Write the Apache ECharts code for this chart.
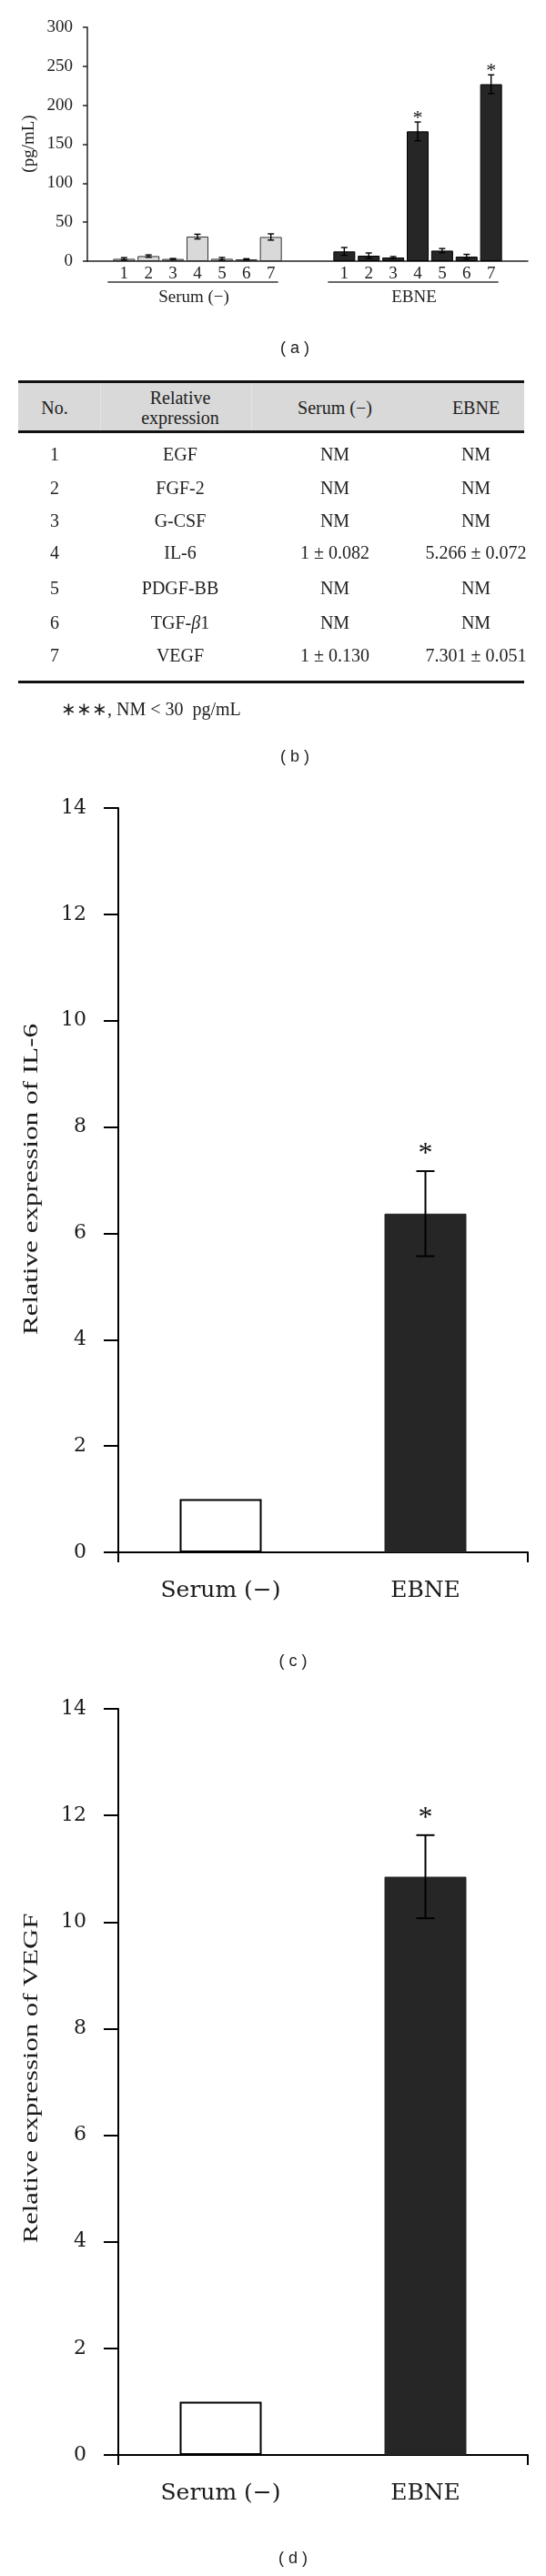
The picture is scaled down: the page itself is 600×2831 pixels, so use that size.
<!DOCTYPE html>
<html>
<head>
<meta charset="utf-8">
<script src="https://cdn.jsdelivr.net/npm/echarts@6/dist/echarts.min.js"></script>
<style>
  body { margin: 0; background: #fff; }
  #chart { position: absolute; left: 0; top: 0; width: 600px; height: 2831px; }
  #table { position: absolute; left: 0; top: 0; width: 600px; height: 840px; pointer-events: none;
           font-family: "Liberation Serif", "Times New Roman", serif; font-size: 20px; color: #222; }
  .cell { position: absolute; transform: translate(-50%, -50%); white-space: nowrap; text-align: center; line-height: 22px; }
  .rule { position: absolute; left: 20px; width: 556px; height: 3px; background: #111; }
</style>
</head>
<body>
<div id="chart"></div>
<div id="table"></div>
<script>
// ---- panel (a): secreted factors, pg/mL ----
var slotLabels = ['', '1', '2', '3', '4', '5', '6', '7', '', '', '1', '2', '3', '4', '5', '6', '7', ''];
var serumSlots = [1, 2, 3, 4, 5, 6, 7];
var ebneSlots = [10, 11, 12, 13, 14, 15, 16];
var serumPg = [3, 6.5, 2.8, 31.5, 3, 2.3, 31];
var serumPgErr = [1.5, 1.5, 0.6, 3, 1.7, 0.8, 4];
var ebnePg = [12.5, 7, 4.7, 166.5, 13.5, 5.8, 227];
var ebnePgErr = [5, 3.5, 1.2, 12, 2.7, 2.9, 12];
var ebneSig = [0, 0, 0, 1, 0, 0, 1];
var groupNames = ['Serum (\u2212)', 'EBNE'];

// ---- panel (b): table ----
var tableNo = ['1', '2', '3', '4', '5', '6', '7'];
var factorNames = ['EGF', 'FGF-2', 'G-CSF', 'IL-6', 'PDGF-BB', 'TGF-\u03b21', 'VEGF'];
var serumRel = ['NM', 'NM', 'NM', '1 \u00b1 0.082', 'NM', 'NM', '1 \u00b1 0.130'];
var ebneRel = ['NM', 'NM', 'NM', '5.266 \u00b1 0.072', 'NM', 'NM', '7.301 \u00b1 0.051'];
var tableHead = ['No.', 'Relative<br>expression', 'Serum (\u2212)', 'EBNE'];
var footNote = '\u2217\u2217\u2217, NM < 30&nbsp; pg/mL';

// ---- panels (c) and (d): relative expression ----
var relGroups = ['Serum (\u2212)', 'EBNE'];
var il6Vals = [1, 6.37];
var il6Err = [0, 0.8];
var vegfVals = [1, 10.85];
var vegfErr = [0, 0.78];
var relSig = [0, 1];
var relTicks = 2;

// table as plain html
var tcols = [60, 198, 368, 523];
var trows = [499, 536, 572, 607, 646, 684, 720];
var html = '';
html += '<div style="position:absolute;left:20px;top:419px;width:556px;height:55px;background:#d9d9d9"></div>';
html += '<div style="position:absolute;left:110px;top:421px;width:1px;height:52px;background:#e4e4e4"></div>';
html += '<div style="position:absolute;left:276px;top:421px;width:1px;height:52px;background:#e4e4e4"></div>';
html += '<div class="rule" style="top:418px"></div>';
html += '<div class="rule" style="top:473px"></div>';
html += '<div class="rule" style="top:748px"></div>';
tableHead.forEach(function (h, i) {
    html += '<div class="cell" style="left:' + tcols[i] + 'px;top:448px">' + h + '</div>';
});
var cols = [tableNo, factorNames, serumRel, ebneRel];
cols.forEach(function (col, i) {
    col.forEach(function (v, r) {
        var txt = v.replace('\u03b2', '<i>\u03b2</i>');
        html += '<div class="cell" style="left:' + tcols[i] + 'px;top:' + trows[r] + 'px">' + txt + '</div>';
    });
});
html += '<div style="position:absolute;left:67px;top:767px;white-space:nowrap">' + footNote + '</div>';
document.getElementById('table').innerHTML = html;

function fill(len, idx, vals) {
    var arr = [];
    for (var i = 0; i < len; i++) arr.push(null);
    idx.forEach(function (k, j) { arr[k] = vals[j]; });
    return arr;
}

function errSeries(xi, yi, data, o) {
    return {
        type: 'custom', xAxisIndex: xi, yAxisIndex: yi, z: 5, data: data,
        renderItem: function (params, api) {
            var x = api.value(0), v = api.value(1), e = api.value(2);
            var top = api.coord([x, v + e]);
            var bot = api.coord([x, v - e]);
            var st = { stroke: '#000', lineWidth: o.lw };
            var ch = [];
            if (e > 0) {
                ch.push({ type: 'line', shape: { x1: top[0], y1: top[1], x2: bot[0], y2: bot[1] }, style: st });
                ch.push({ type: 'line', shape: { x1: top[0] - o.cap, y1: top[1], x2: top[0] + o.cap, y2: top[1] }, style: st });
                ch.push({ type: 'line', shape: { x1: bot[0] - o.cap, y1: bot[1], x2: bot[0] + o.cap, y2: bot[1] }, style: st });
            }
            if (api.value(3)) {
                ch.push({ type: 'text', x: top[0], y: top[1] - o.gap,
                    style: { text: '*', font: o.font, fill: '#111', align: 'center', verticalAlign: 'middle' } });
            }
            return { type: 'group', children: ch };
        }
    };
}

var serif = '"Liberation Serif", "Times New Roman", serif';
var wide = '"DejaVu Serif", serif';

var errA = [];
serumSlots.forEach(function (k, j) { errA.push([k, serumPg[j], serumPgErr[j], 0]); });
ebneSlots.forEach(function (k, j) { errA.push([k, ebnePg[j], ebnePgErr[j], ebneSig[j]]); });

function relBar(vals) {
    return vals.map(function (v, i) {
        return i === 0
            ? { value: v, itemStyle: { color: '#fff', borderColor: '#000', borderWidth: 2 } }
            : { value: v, itemStyle: { color: '#262626', borderColor: '#262626', borderWidth: 1 } };
    });
}
function relErr(vals, errs) {
    return vals.map(function (v, i) { return [i, v, errs[i], relSig[i]]; });
}

var axisBlack = { lineStyle: { color: '#000', width: 2 } };

function relX(grid) {
    return [{
        type: 'category', gridIndex: grid, data: relGroups, boundaryGap: true,
        axisLine: axisBlack,
        axisTick: { alignWithLabel: true, length: 11, lineStyle: { color: '#000', width: 2 } },
        axisLabel: { fontFamily: wide, fontSize: 25, color: '#1a1a1a', margin: 30 }
    }, {
        type: 'value', gridIndex: grid, min: 0, max: 2, interval: 2, position: 'bottom',
        axisLine: { show: false }, splitLine: { show: false }, axisLabel: { show: false },
        axisTick: { show: true, length: 11, lineStyle: { color: '#000', width: 2 } }
    }];
}
function relY(grid) {
    return {
        type: 'value', gridIndex: grid, min: 0, max: 14, interval: relTicks,
        axisLine: { show: true, lineStyle: { color: '#000', width: 2 } },
        axisTick: { show: true, length: 16, lineStyle: { color: '#000', width: 2 } },
        splitLine: { show: false },
        axisLabel: { fontFamily: wide, fontSize: 22, color: '#1a1a1a', margin: 35 }
    };
}

var chart = echarts.init(document.getElementById('chart'));
var option = {
    backgroundColor: '#fff',
    animation: false,
    grid: [
        { left: 96, top: 30, width: 484, height: 257 },
        { left: 130, top: 888, width: 450, height: 818 },
        { left: 130, top: 1878, width: 450, height: 820 }
    ],
    xAxis: [{
        type: 'category', gridIndex: 0, data: slotLabels, boundaryGap: true,
        axisLine: { lineStyle: { color: '#222', width: 1.5 } },
        axisTick: { show: false },
        axisLabel: { fontFamily: serif, fontSize: 19, color: '#222', margin: 5, interval: 0 }
    }].concat(relX(1), relX(2)),
    yAxis: [{
        type: 'value', gridIndex: 0, min: 0, max: 300, interval: 50,
        axisLine: { show: true, lineStyle: { color: '#222', width: 1.5 } },
        axisTick: { show: true, length: 5, lineStyle: { color: '#222', width: 1.5 } },
        splitLine: { show: false },
        axisLabel: { fontFamily: serif, fontSize: 19, color: '#222', margin: 16 }
    }, relY(1), relY(2)],
    series: [{
        type: 'bar', xAxisIndex: 0, yAxisIndex: 0, barWidth: 24, barGap: '-100%',
        data: fill(slotLabels.length, serumSlots, serumPg),
        itemStyle: { color: '#d9d9d9', borderColor: '#333', borderWidth: 1 }
    }, {
        type: 'bar', xAxisIndex: 0, yAxisIndex: 0, barWidth: 24, barGap: '-100%',
        data: fill(slotLabels.length, ebneSlots, ebnePg),
        itemStyle: { color: '#262626', borderColor: '#000', borderWidth: 1 }
    },
    errSeries(0, 0, errA, { lw: 1.4, cap: 3.5, gap: 4, font: '22px ' + serif }),
    { type: 'bar', xAxisIndex: 1, yAxisIndex: 1, barWidth: 90, data: relBar(il6Vals) },
    errSeries(1, 1, relErr(il6Vals, il6Err), { lw: 2, cap: 10, gap: 18, font: '32px ' + serif }),
    { type: 'bar', xAxisIndex: 3, yAxisIndex: 2, barWidth: 90, data: relBar(vegfVals) },
    errSeries(3, 2, relErr(vegfVals, vegfErr), { lw: 2, cap: 10, gap: 18, font: '32px ' + serif })
    ]
};
chart.setOption(option);

// annotations: panel letters, axis titles, group underlines for (a)
function capText(t, x, y) {
    return { type: 'text', x: x, y: y, style: { text: t, font: '18px "Liberation Sans", Arial, sans-serif', fill: '#222', align: 'center', verticalAlign: 'middle' } };
}
function yTitle(t, x, y, font, sx) {
    return { type: 'text', x: x, y: y, rotation: Math.PI / 2, scaleX: sx, scaleY: 1,
        style: { text: t, font: font, fill: '#1a1a1a', align: 'center', verticalAlign: 'middle' } };
}
var g = [
    capText('( a )', 324, 383),
    capText('( b )', 324, 832),
    capText('( c )', 322, 1826),
    capText('( d )', 322, 2812),
    yTitle('(pg/mL)', 32, 158, '19px ' + serif, 1),
    yTitle('Relative expression of IL-6', 35, 1296, '24px ' + serif, 1.3),
    yTitle('Relative expression of VEGF', 35, 2284, '24px ' + serif, 1.28)
];
[serumSlots, ebneSlots].forEach(function (slots, i) {
    var a = chart.convertToPixel({ xAxisIndex: 0 }, slots[0]);
    var b = chart.convertToPixel({ xAxisIndex: 0 }, slots[slots.length - 1]);
    g.push({ type: 'line', shape: { x1: a - 18, y1: 310, x2: b + 8, y2: 310 }, style: { stroke: '#333', lineWidth: 1.5 } });
    g.push({ type: 'text', x: (a + b) / 2 - 4, y: 327,
        style: { text: groupNames[i], font: '19px ' + serif, fill: '#222', align: 'center', verticalAlign: 'middle' } });
});
chart.setOption({ graphic: g });
</script>
</body>
</html>
